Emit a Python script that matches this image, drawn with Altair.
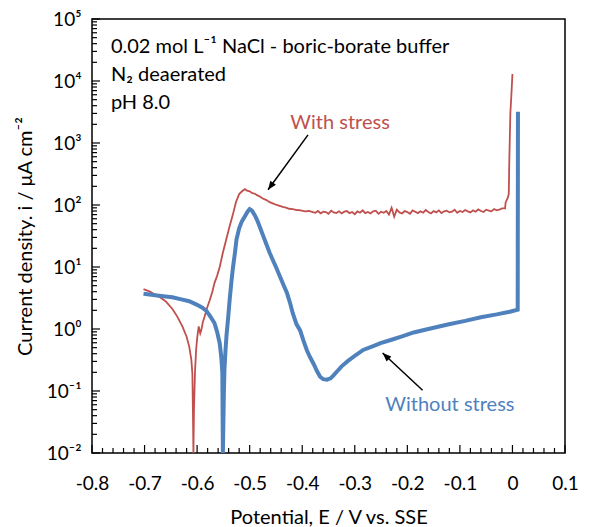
import altair as alt
import pandas as pd

FONT = "Lato"
RED = "#c0504d"
BLUE = "#4f81bd"

# ---- Without stress (blue) ----
BLUE_E = [-0.702, -0.680, -0.660, -0.647, -0.630, -0.615, -0.600, -0.590, -0.582, -0.575,
          -0.567, -0.562, -0.557, -0.554, -0.552, -0.551, -0.549, -0.548, -0.546, -0.544,
          -0.541, -0.538, -0.535, -0.532, -0.528, -0.525, -0.520, -0.515, -0.509, -0.504,
          -0.500, -0.496, -0.490, -0.485, -0.481, -0.475, -0.468, -0.462, -0.456, -0.450,
          -0.442, -0.435, -0.429, -0.423, -0.418, -0.411, -0.404, -0.398, -0.391, -0.385,
          -0.378, -0.372, -0.366, -0.360, -0.353, -0.346, -0.340, -0.333, -0.325, -0.314,
          -0.300, -0.284, -0.265, -0.251, -0.230, -0.210, -0.188, -0.160, -0.123, -0.090,
          -0.060, -0.030, -0.005, 0.010, 0.0105]
BLUE_I = [3.7, 3.5, 3.35, 3.25, 3.0, 2.8, 2.45, 2.2, 1.95, 1.6,
          1.25, 0.9, 0.59, 0.35, 0.2, 0.01, 0.1, 0.22, 0.45, 0.8,
          1.5, 3.0, 5.5, 9.5, 17, 28, 42, 54, 66, 78,
          86, 82, 68, 55, 45, 33, 23, 17, 13, 10,
          6.9, 5.0, 3.8, 2.6, 1.8, 1.2, 0.95, 0.66, 0.45, 0.35,
          0.27, 0.21, 0.17, 0.155, 0.152, 0.16, 0.18, 0.21, 0.25, 0.30,
          0.37, 0.46, 0.53, 0.59, 0.67, 0.76, 0.88, 1.0, 1.18, 1.35,
          1.55, 1.72, 1.9, 2.05, 3200]

# ---- With stress (red) ----
RED_E_A = [-0.702, -0.690, -0.680, -0.672, -0.660, -0.647, -0.638, -0.628, -0.620, -0.615,
           -0.611, -0.609, -0.608, -0.607, -0.606, -0.604, -0.602, -0.600, -0.597, -0.594,
           -0.592, -0.589, -0.586, -0.581, -0.576, -0.571, -0.567, -0.562, -0.557, -0.551,
           -0.545, -0.538, -0.532, -0.526, -0.520, -0.514, -0.509, -0.505, -0.500, -0.495,
           -0.490, -0.486, -0.480, -0.475, -0.468, -0.462, -0.456, -0.450, -0.443, -0.437,
           -0.431, -0.425, -0.418, -0.410, -0.403, -0.395, -0.387, -0.380]
RED_I_A = [4.4, 4.0, 3.6, 3.3, 2.8, 2.1, 1.6, 1.1, 0.75, 0.52,
           0.32, 0.19, 0.05, 0.01, 0.05, 0.2, 0.45, 0.7, 1.1, 0.85,
           0.96, 1.3, 1.56, 2.2, 2.9, 4.0, 5.5, 7.2, 10, 17,
           27, 46, 70, 112, 150, 168, 180, 170, 166, 155,
           152, 144, 136, 127, 120, 111, 106, 101, 97, 93,
           91, 87, 86, 83, 82, 79, 80, 77]
# passive plateau (hand-read jitter), sampled every 5 mV from -0.375 V
RED_FLAT_I = [75, 80, 73, 78, 77, 72, 81, 76, 74, 79,
              73, 78, 80, 74, 77, 71, 79, 75, 82, 74,
              77, 73, 79, 81, 72, 78, 75, 80, 70, 90,
              65, 84, 76, 73, 80, 77, 72, 82, 78, 74,
              79, 75, 83, 77, 73, 80, 76, 82, 74, 79,
              81, 76, 78, 84, 75, 80, 77, 83, 79, 76,
              82, 78, 85, 80, 77, 84, 81, 79, 86, 82,
              84, 88]
RED_E_C = [-0.014, -0.013, -0.009, -0.007, -0.006, -0.004, -0.002, 0.000]
RED_I_C = [88, 110, 130, 150, 500, 3000, 6000, 13000]

RED_E = RED_E_A + [round(-0.375 + 0.005 * k, 3) for k in range(len(RED_FLAT_I))] + RED_E_C
RED_I = RED_I_A + RED_FLAT_I + RED_I_C

# ---- axes ----
X_MAJOR = [-0.8, -0.7, -0.6, -0.5, -0.4, -0.3, -0.2, -0.1, 0, 0.1]
X_MINOR = [round(-0.8 + 0.02 * k, 2) for k in range(46) if k % 5]
Y_MAJOR = [0.01, 0.1, 1, 10, 100, 1000, 10000, 100000]
Y_MINOR = [m * 10.0 ** e for e in range(-2, 5) for m in range(2, 10)]
Y_TICK_LABELS = ["10⁻²", "10⁻¹", "10⁰", "10¹", "10²", "10³", "10⁴", "10⁵"]

X_TITLE = "Potential, E / V vs. SSE"
Y_TITLE = "Current density. i / μA cm⁻²"

# ---- annotations ----
NOTE_LINES = ["0.02 mol L⁻¹ NaCl - boric-borate buffer", "N₂ deaerated", "pH 8.0"]
NOTE_E = [-0.764, -0.764, -0.764]
NOTE_I = [36000, 12600, 4470]

LABELS = ["With stress", "Without stress"]
LABEL_E = [-0.328, -0.119]
LABEL_I = [2130, 0.059]
LABEL_COLORS = [RED, BLUE]

ARROW_E = [-0.389, -0.171]
ARROW_I = [1350, 0.103]
ARROW_E2 = [-0.465, -0.247]
ARROW_I2 = [176, 0.41]
ARROW_ANG = [216, 313]

W, H = 473, 434

xs = alt.Scale(domain=[-0.8, 0.1], nice=False, zero=False)
ys = alt.Scale(type="log", domain=[0.01, 100000], nice=False)

x_axis = alt.Axis(values=X_MAJOR, labelExpr="'' + datum.value", ticks=False, tickSize=0,
                  domain=False, grid=False, labelPadding=21, labelFlush=False,
                  labelOverlap=False, title=X_TITLE,
                  titleY=64, titleBaseline="middle")
y_axis = alt.Axis(values=Y_MAJOR,
                  labelExpr=str(Y_TICK_LABELS).replace('"', "'") + "[round(log(datum.value)/LN10)+2]",
                  ticks=False, tickSize=0, domain=False, grid=False, labelPadding=11,
                  labelFlush=False, labelOverlap=False,
                  title=Y_TITLE, titleX=-67, titleY=H / 2, titleAngle=270,
                  titleBaseline="middle", titleAlign="center")

X = alt.X("E:Q", scale=xs, axis=x_axis)
Y = alt.Y("I:Q", scale=ys, axis=y_axis)

blue_df = pd.DataFrame({"E": BLUE_E, "I": BLUE_I, "k": range(len(BLUE_E))})
red_df = pd.DataFrame({"E": RED_E, "I": RED_I, "k": range(len(RED_E))})

red_line = alt.Chart(red_df).mark_line(color=RED, strokeWidth=1.8, clip=True).encode(
    x=X, y=Y, order="k:Q")
blue_line = alt.Chart(blue_df).mark_line(color=BLUE, strokeWidth=4, clip=True).encode(
    x=X, y=Y, order="k:Q")

xmaj = alt.Chart(pd.DataFrame({"E": X_MAJOR})).mark_rule(color="black", strokeWidth=1.2).encode(
    x=X, y=alt.value(H), y2=alt.value(H - 8))
xmin = alt.Chart(pd.DataFrame({"E": X_MINOR})).mark_rule(color="black", strokeWidth=1.2).encode(
    x=X, y=alt.value(H), y2=alt.value(H - 5))
ymaj = alt.Chart(pd.DataFrame({"I": Y_MAJOR})).mark_rule(color="black", strokeWidth=1.2).encode(
    y=Y, x=alt.value(0), x2=alt.value(8))
ymin = alt.Chart(pd.DataFrame({"I": Y_MINOR})).mark_rule(color="black", strokeWidth=1.2).encode(
    y=Y, x=alt.value(0), x2=alt.value(5))

notes = alt.Chart(pd.DataFrame({"E": NOTE_E, "I": NOTE_I, "t": NOTE_LINES})).mark_text(
    align="left", baseline="middle", font=FONT, fontSize=20, color="black").encode(
    x=X, y=Y, text="t:N")

labels = alt.Chart(pd.DataFrame({"E": LABEL_E, "I": LABEL_I, "t": LABELS, "c": LABEL_COLORS})).mark_text(
    align="center", baseline="middle", font=FONT, fontSize=20).encode(
    x=X, y=Y, text="t:N", color=alt.Color("c:N", scale=None))

arrow_df = pd.DataFrame({"E": ARROW_E, "I": ARROW_I, "E2": ARROW_E2, "I2": ARROW_I2, "a": ARROW_ANG})
arrow_lines = alt.Chart(arrow_df).mark_rule(color="black", strokeWidth=1.5).encode(
    x=X, y=Y, x2="E2:Q", y2="I2:Q")
arrow_heads = alt.Chart(arrow_df).mark_point(
    shape="M0,0L-0.4,1L0.4,1Z", filled=True, color="black", size=300, opacity=1).encode(
    x=alt.X("E2:Q", scale=xs, axis=x_axis), y=alt.Y("I2:Q", scale=ys, axis=y_axis),
    angle=alt.Angle("a:Q", scale=None))

chart = alt.layer(xmin, xmaj, ymin, ymaj, red_line, blue_line, arrow_lines, arrow_heads,
                  notes, labels).properties(
    width=W, height=H,
    autosize=alt.AutoSizeParams(type="none"),
    padding={"left": 84, "top": 11, "right": 17, "bottom": 74},
).configure_view(stroke="black", strokeWidth=1.5).configure_axis(
    labelFont=FONT, labelFontSize=19, labelColor="black",
    titleFont=FONT, titleFontSize=20, titleFontWeight="normal", titleColor="black")

chart.save("out.html", embed_options={"renderer": "svg", "actions": False})
